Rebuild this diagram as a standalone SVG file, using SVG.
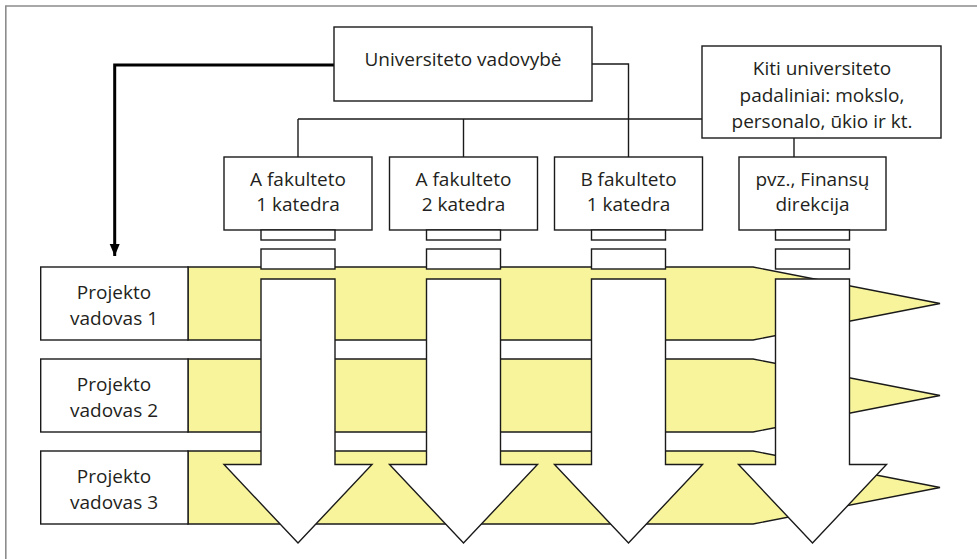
<svg xmlns="http://www.w3.org/2000/svg" width="977" height="559" viewBox="0 0 977 559">
  <defs>
    <style>
      .box { fill: #ffffff; stroke: #1a1a1a; stroke-width: 1.4; }
      .band { fill: #f8f49c; stroke: #1a1a1a; stroke-width: 1.4; stroke-linejoin: miter; }
      .flow { fill: #ffffff; stroke: #1a1a1a; stroke-width: 1.4; stroke-linejoin: miter; }
      .line { fill: none; stroke: #1a1a1a; stroke-width: 1.4; }
      .thick { fill: none; stroke: #000000; stroke-width: 3; }
      .frame { fill: none; stroke: #8c8c8c; stroke-width: 1.6; }
      text { font-family: "Open Sans", "Noto Sans", sans-serif; font-size: 19px; fill: #231f20; text-anchor: middle; }
    </style>
    <marker id="arrowhead" markerUnits="userSpaceOnUse" markerWidth="12" markerHeight="12" refX="12" refY="5" orient="auto">
      <path d="M0,0 L12,5 L0,10 Z" fill="#000000"/>
    </marker>
    <!-- downward flow arrow, centred on x=0 -->
    <polygon id="downArrow" class="flow" points="-37,279 37,279 37,464.5 74,464.5 0,543 -74,464.5 -37,464.5"/>
  </defs>

  <!-- outer frame (top and left edges) -->
  <path class="frame" d="M5.8,559 L5.8,6 L977,6"/>

  <!-- project bands -->
  <g id="bands">
    <polygon id="band-1" class="band" points="188,267 753,267 940,303.5 753,340 188,340"/>
    <polygon id="band-2" class="band" points="188,359 753,359 940,395.5 753,432 188,432"/>
    <polygon id="band-3" class="band" points="188,451 753,451 940,487.5 753,524 188,524"/>
  </g>

  <!-- connectors -->
  <g id="connectors">
    <path class="thick" d="M334,65 L114.7,65 L114.7,256" marker-end="url(#arrowhead)"/>
    <path class="line" d="M592,64 L628.5,64 L628.5,157"/>
    <path class="line" d="M298,119 L702,119"/>
    <path class="line" d="M298,119 L298,157"/>
    <path class="line" d="M463.5,119 L463.5,157"/>
    <path class="line" d="M794,138 L794,157"/>
  </g>

  <!-- top management -->
  <g id="node-vadovybe">
    <rect class="box" x="334" y="27" width="258" height="74"/>
    <text x="463" y="66">Universiteto vadovybė</text>
  </g>

  <g id="node-kiti">
    <rect class="box" x="702" y="46" width="239" height="92"/>
    <text x="822" y="75">Kiti universiteto</text>
    <text x="822" y="102">padaliniai: mokslo,</text>
    <text x="822" y="128">personalo, ūkio ir kt.</text>
  </g>

  <!-- departments with their flow arrows -->
  <g id="node-a1">
    <rect class="box" x="224" y="157" width="148" height="73"/>
    <text x="298" y="186">A fakulteto</text>
    <text x="298" y="211">1 katedra</text>
    <rect class="box" x="261" y="230" width="74" height="10"/>
    <rect class="box" x="261" y="249" width="74" height="20"/>
    <use href="#downArrow" x="298"/>
  </g>

  <g id="node-a2">
    <rect class="box" x="389.5" y="157" width="148" height="73"/>
    <text x="463.5" y="186">A fakulteto</text>
    <text x="463.5" y="211">2 katedra</text>
    <rect class="box" x="426.5" y="230" width="74" height="10"/>
    <rect class="box" x="426.5" y="249" width="74" height="20"/>
    <use href="#downArrow" x="463.5"/>
  </g>

  <g id="node-b1">
    <rect class="box" x="554.5" y="157" width="148" height="73"/>
    <text x="628.5" y="186">B fakulteto</text>
    <text x="628.5" y="211">1 katedra</text>
    <rect class="box" x="591.5" y="230" width="74" height="10"/>
    <rect class="box" x="591.5" y="249" width="74" height="20"/>
    <use href="#downArrow" x="628.5"/>
  </g>

  <g id="node-finansai">
    <rect class="box" x="739" y="157" width="147" height="73"/>
    <text x="812.5" y="186">pvz., Finansų</text>
    <text x="812.5" y="211">direkcija</text>
    <rect class="box" x="775.5" y="230" width="74" height="10"/>
    <rect class="box" x="775.5" y="249" width="74" height="20"/>
    <use href="#downArrow" x="812.5"/>
  </g>

  <!-- project managers -->
  <g id="node-pv1">
    <rect class="box" x="40.7" y="267" width="147.3" height="73"/>
    <text x="114" y="299">Projekto</text>
    <text x="114" y="325">vadovas 1</text>
  </g>
  <g id="node-pv2">
    <rect class="box" x="40.7" y="359" width="147.3" height="73"/>
    <text x="114" y="391">Projekto</text>
    <text x="114" y="417">vadovas 2</text>
  </g>
  <g id="node-pv3">
    <rect class="box" x="40.7" y="451" width="147.3" height="73"/>
    <text x="114" y="483">Projekto</text>
    <text x="114" y="509">vadovas 3</text>
  </g>
</svg>
